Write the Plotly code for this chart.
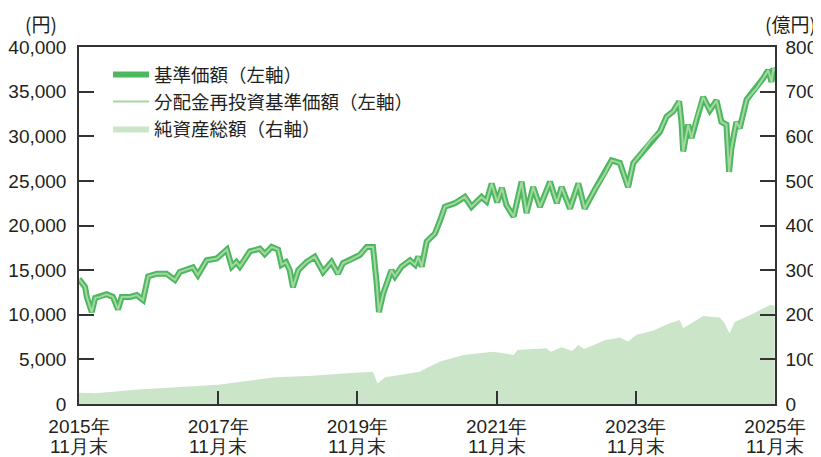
import plotly.graph_objects as go

# ---- data ----
price_dates = [
    "2015-11-30", "2016-01-01", "2016-01-10", "2016-02-05", "2016-02-23", "2016-03-19",
    "2016-04-23", "2016-05-26", "2016-06-22", "2016-07-11", "2016-08-24", "2016-09-28",
    "2016-10-31", "2016-11-27", "2017-01-12", "2017-03-03", "2017-04-16", "2017-05-12",
    "2017-07-20", "2017-08-15", "2017-09-30", "2017-11-22", "2018-01-14", "2018-02-09",
    "2018-03-05", "2018-03-23", "2018-05-15", "2018-07-06", "2018-08-01", "2018-09-06",
    "2018-10-10", "2018-10-28", "2018-11-20", "2018-12-10", "2018-12-27", "2019-01-24",
    "2019-03-08", "2019-04-20", "2019-06-03", "2019-07-17", "2019-08-20", "2019-09-16",
    "2019-10-20", "2019-12-13", "2020-01-18",
    "2020-02-20", "2020-03-10", "2020-03-22", "2020-04-14", "2020-05-27", "2020-06-14",
    "2020-07-19", "2020-09-01", "2020-09-28", "2020-10-15", "2020-11-02", "2020-11-28",
    "2021-01-10", "2021-02-07", "2021-03-03", "2021-04-25", "2021-06-16", "2021-07-21",
    "2021-09-12", "2021-10-08", "2021-11-04", "2021-12-03", "2021-12-28", "2022-01-20",
    "2022-02-27", "2022-04-10", "2022-05-06", "2022-06-10", "2022-07-15", "2022-09-06",
    "2022-10-12", "2022-11-06", "2022-12-20", "2023-02-02", "2023-03-07", "2023-04-29",
    "2023-06-20", "2023-07-26", "2023-09-08", "2023-10-21", "2023-11-17", "2023-12-30",
    "2024-02-12", "2024-04-05", "2024-05-10", "2024-06-14", "2024-07-15", "2024-07-27",
    "2024-08-05", "2024-08-31", "2024-09-18", "2024-10-14", "2024-11-18", "2024-12-23",
    "2025-01-27", "2025-02-22", "2025-03-20", "2025-04-03", "2025-04-15", "2025-05-11",
    "2025-05-29", "2025-07-04", "2025-08-25", "2025-09-29", "2025-10-25", "2025-11-12",
    "2025-11-21", "2025-11-28",
]
base_price = [
    14000, 13100, 12000, 10300, 11900, 12000,
    12300, 12000, 10600, 12000, 12000, 12200,
    11650, 14300, 14600, 14600, 13900, 14800,
    15300, 14450, 16100, 16300, 17300, 15400,
    15900, 15400, 17100, 17400, 16800, 17600,
    17300, 15600, 15900, 15000, 13100, 15000,
    15900, 16500, 14800, 15900, 14600, 15800,
    16100, 16700, 17600,
    17600, 13600, 10300, 12400, 15000, 14300,
    15400, 16100, 15600, 16500, 15400, 18200,
    19100, 20600, 22100, 22500, 23200, 22100,
    23200, 22700, 24700, 22600, 24200, 22300,
    21000, 24900, 21400, 24300, 22100, 24900,
    22500, 24300, 21900, 24700, 21900, 24000,
    25800, 27300, 27000, 24300, 27000, 28100,
    29400, 30500, 32200, 32800, 33900, 31600,
    28300, 31300, 29800, 32000, 34400, 32900,
    34000, 31600, 31300, 26000, 28600, 31600,
    30900, 34100, 35400, 36500, 37400, 36100,
    37600, 37300,
]
# no distributions paid: the reinvested NAV equals the base price
reinvest_price = list(base_price)

nav_dates = [
    "2015-11-30", "2016-02-23", "2016-10-24", "2017-11-30", "2018-09-23", "2019-03-15",
    "2019-11-17", "2020-02-20", "2020-03-15", "2020-04-24", "2020-10-24", "2020-11-07",
    "2021-02-06", "2021-06-08", "2021-11-12", "2022-02-27", "2022-03-20", "2022-08-18",
    "2022-09-10", "2022-11-06", "2022-12-31", "2023-02-02", "2023-03-05", "2023-06-21",
    "2023-09-08", "2023-10-21", "2023-12-05", "2024-02-28", "2024-05-26", "2024-07-18",
    "2024-08-05", "2024-09-27", "2024-11-18", "2025-02-14", "2025-03-11", "2025-04-05",
    "2025-05-03", "2025-08-08", "2025-11-05", "2025-11-28",
]
net_assets = [
    25, 24, 33, 43, 60, 63,
    70, 72, 46, 60, 72, 76,
    95, 110, 117, 110, 121, 125,
    117, 127, 119, 132, 123, 143,
    149, 140, 155, 164, 181, 188,
    170, 184, 197, 194, 181, 158,
    184, 203, 222, 220,
]

x_tick_vals = ["2015-11-30", "2017-11-30", "2019-11-30", "2021-11-30", "2023-11-30", "2025-11-30"]
x_tick_year = ["2015年", "2017年", "2019年", "2021年", "2023年", "2025年"]
x_tick_month = ["11月末", "11月末", "11月末", "11月末", "11月末", "11月末"]

# ---- styling ----
GREEN = "#4cb860"
LIGHT = "#a6d7a1"
FILL = "#cbe5c9"
INK = "#231f20"
AX = "#333333"
NUM_FONT = "Liberation Sans, Arial, sans-serif"
JP_FONT = "Noto Sans CJK JP, sans-serif"

fig = go.Figure()
fig.add_trace(go.Scatter(
    x=price_dates, y=base_price, name="基準価額（左軸）", mode="lines",
    line=dict(color=GREEN, width=6), yaxis="y",
))
fig.add_trace(go.Scatter(
    x=price_dates, y=reinvest_price, name="分配金再投資基準価額（左軸）", mode="lines",
    line=dict(color=LIGHT, width=2), yaxis="y",
))
fig.add_trace(go.Scatter(
    x=nav_dates, y=net_assets, name="純資産総額（右軸）", mode="lines",
    line=dict(color=FILL, width=0), fill="tozeroy", fillcolor=FILL, yaxis="y2",
))

annotations = [
    dict(text="(円)", xref="paper", yref="paper", x=-0.055, y=1.0, yshift=24,
         xanchor="center", yanchor="middle", showarrow=False,
         font=dict(family=JP_FONT, size=19, color=INK)),
    dict(text="(億円)", xref="paper", yref="paper", x=1.0, y=1.0, yshift=24, xshift=43,
         xanchor="right", yanchor="middle", showarrow=False,
         font=dict(family=JP_FONT, size=19, color=INK)),
]
for xv, mt in zip(x_tick_vals, x_tick_month):
    annotations.append(dict(
        text=mt, x=xv, xref="x", y=0, yref="paper", yshift=-42,
        xanchor="center", yanchor="middle", showarrow=False,
        font=dict(family=NUM_FONT, size=19, color=INK),
    ))

# The page body adds an 8px offset, so margins are trimmed by 8px on the left/top.
fig.update_layout(
    width=821, height=457,
    margin=dict(l=71, r=54, t=39, b=61),
    paper_bgcolor="white", plot_bgcolor="white",
    font=dict(family=NUM_FONT, size=19, color=INK),
    showlegend=True,
    legend=dict(
        x=0.0417, y=0.975, xanchor="left", yanchor="top",
        bgcolor="rgba(0,0,0,0)", traceorder="normal",
        font=dict(family=JP_FONT, size=18.5, color=INK),
        itemwidth=36, tracegroupgap=0,
    ),
    xaxis=dict(
        type="date", range=["2015-11-30", "2025-11-30"],
        tickvals=x_tick_vals, ticktext=x_tick_year,
        ticks="inside", ticklen=13, tickcolor=AX, tickwidth=1.5,
        showline=True, linecolor=AX, linewidth=1.5, mirror=True,
        showgrid=False, zeroline=False, automargin=False,
        tickfont=dict(family=NUM_FONT, size=19, color=INK),
        ticklabelstandoff=4,
    ),
    yaxis=dict(
        range=[0, 40000], dtick=5000, tickformat=",",
        ticks="inside", ticklen=15, tickcolor=AX, tickwidth=1.5,
        showline=True, linecolor=AX, linewidth=1.5,
        showgrid=False, zeroline=False, automargin=False,
        tickfont=dict(family=NUM_FONT, size=19, color=INK),
        ticklabelstandoff=7,
    ),
    yaxis2=dict(
        range=[0, 800], dtick=100, overlaying="y", side="right",
        ticks="inside", ticklen=15, tickcolor=AX, tickwidth=1.5,
        showline=True, linecolor=AX, linewidth=1.5,
        showgrid=False, zeroline=False, automargin=False,
        tickfont=dict(family=NUM_FONT, size=19, color=INK),
        ticklabelstandoff=5,
    ),
    annotations=annotations,
)

fig.write_html("out.html")
